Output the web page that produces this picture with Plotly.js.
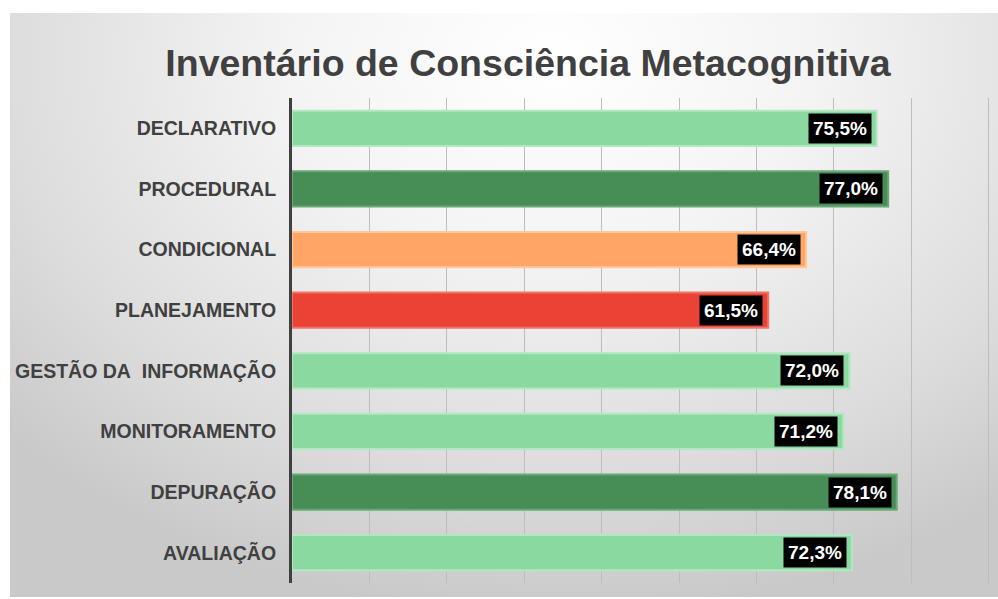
<!DOCTYPE html>
<html>
<head>
<meta charset="utf-8">
<script src="https://cdn.plot.ly/plotly-3.0.1.min.js"></script>
<style>
  body { margin: 0; background: #ffffff; }
  #bg {
    position: absolute; left: 10px; top: 13px; width: 988px; height: 584px;
    background: radial-gradient(ellipse 75% 95% at 55% 8%, #ffffff 0%, #f4f4f4 35%, #dcdcdc 75%, #c9c9c9 100%);
  }
  #chart { position: absolute; left: 0; top: 0; width: 998px; height: 599px; }
</style>
</head>
<body>
<div id="bg"></div>
<div id="chart"></div>
<script>
let categories = ['DECLARATIVO', 'PROCEDURAL', 'CONDICIONAL', 'PLANEJAMENTO',
    'GESTÃO DA\u00a0 INFORMAÇÃO', 'MONITORAMENTO', 'DEPURAÇÃO', 'AVALIAÇÃO'];
let values = [75.5, 77.0, 66.4, 61.5, 72.0, 71.2, 78.1, 72.3];
let barColors = ['#8ad9a0', '#468e56', '#ffa666', '#ea4335', '#8ad9a0', '#8ad9a0', '#468e56', '#8ad9a0'];
let edgeColors = ['#b2e8bf', '#6aa878', '#ffc79c', '#f07468', '#b2e8bf', '#b2e8bf', '#6aa878', '#b2e8bf'];

let fontFamily = 'Arial, "Liberation Sans", sans-serif';

let labels = [];
for(let i = 0; i < values.length; i++)
    labels.push(values[i].toFixed(1).replace('.', ',') + '%');

var data = [{
    type: 'bar',
    orientation: 'h',
    x: values,
    y: categories,
    marker: { color: barColors, line: { color: edgeColors, width: 2 } },
    hoverinfo: 'none'
}];

// black value boxes at the end of each bar
let annotations = [];
for(let i = 0; i < values.length; i++) {
    annotations.push({
        x: values[i], y: categories[i], xref: 'x', yref: 'y',
        text: '<b>' + labels[i] + '</b>', showarrow: false,
        xanchor: 'right', xshift: -5,
        bgcolor: '#000000', borderpad: 4,
        font: { family: fontFamily, size: 19, color: '#ffffff' }
    });
}

var layout = {
    width: 998,
    height: 599,
    paper_bgcolor: 'rgba(0,0,0,0)',
    plot_bgcolor: 'rgba(0,0,0,0)',
    margin: { l: 291.5, r: 8, t: 98, b: 16 },
    showlegend: false,
    bargap: 0.42,
    title: {
        text: '<b>Inventário de Consciência Metacognitiva</b>',
        x: 0.529, xref: 'container', xanchor: 'center',
        y: 1 - 63 / 599, yref: 'container', yanchor: 'middle',
        font: { family: fontFamily, size: 37.5, color: '#404040' }
    },
    xaxis: {
        range: [0, 90.15], tickvals: [10, 20, 30, 40, 50, 60, 70, 80, 90], showticklabels: false,
        showgrid: true, gridcolor: '#bdbdbd', gridwidth: 1,
        zeroline: false, showline: false, fixedrange: true
    },
    yaxis: {
        autorange: 'reversed', type: 'category',
        showline: true, linecolor: '#404040', linewidth: 3,
        showgrid: false, ticks: '', ticklabelstandoff: 9,
        tickfont: { family: fontFamily, size: 19.5, color: '#404040' },
        fixedrange: true
    },
    annotations: annotations
};

// bold category labels
layout.yaxis.tickvals = categories;
layout.yaxis.ticktext = categories.map(function(c) { return '<b>' + c + '</b>'; });

Plotly.newPlot('chart', data, layout, { displayModeBar: false, staticPlot: true });
</script>
</body>
</html>
